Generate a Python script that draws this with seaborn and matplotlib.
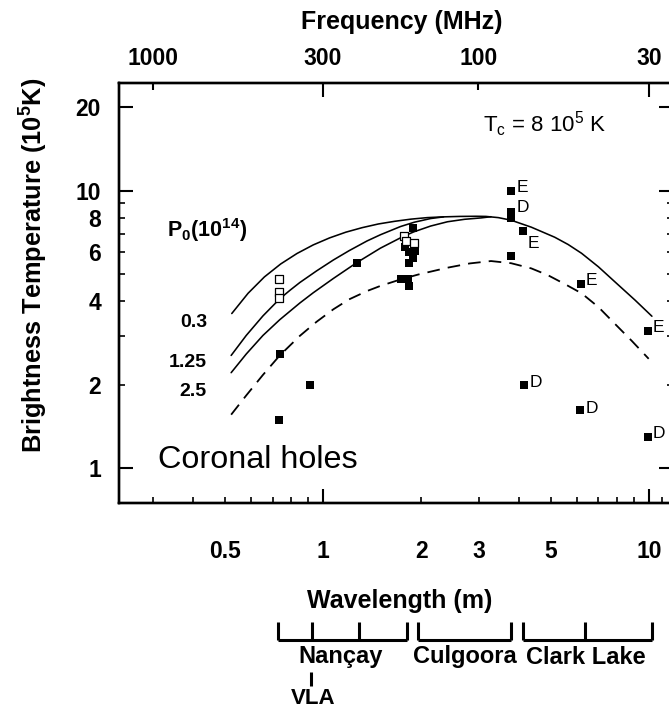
import matplotlib
matplotlib.use("Agg")
import matplotlib.pyplot as plt
import matplotlib.transforms as mtransforms
from matplotlib.ticker import FixedLocator, FuncFormatter
import seaborn as sns

# ---------------- data ----------------
# model curves: wavelength (m) vs brightness temperature (1e5 K)
curve_p03_wl = [0.5248, 0.5888, 0.6607, 0.7413, 0.8318, 0.9333, 1.047, 1.175, 1.318, 1.479,
                1.66, 1.862, 2.089, 2.344, 2.63, 2.951, 3.16, 3.45, 3.777, 4.355,
                5.137, 5.65, 6.212, 6.996, 7.87, 9.073, 10.21]
curve_p03_t = [3.61, 4.27, 4.89, 5.445, 5.94, 6.38, 6.76, 7.09, 7.36, 7.59,
               7.76, 7.90, 8.00, 8.05, 8.08, 8.09, 8.08, 8.00, 7.83, 7.39,
               6.80, 6.40, 5.95, 5.32, 4.69, 4.03, 3.53]
curve_p125_wl = [0.5225, 0.5813, 0.6541, 0.7366, 0.794, 0.849, 0.955, 1.076, 1.202, 1.364,
                 1.500, 1.729, 1.905, 2.139, 2.344]
curve_p125_t = [2.55, 3.01, 3.54, 4.08, 4.39, 4.67, 5.14, 5.63, 6.08, 6.59,
                6.94, 7.43, 7.70, 7.94, 8.05]
curve_p25_wl = [0.5225, 0.5813, 0.6541, 0.7366, 0.849, 0.9334, 1.076, 1.270, 1.500, 1.769,
                1.900, 2.139, 2.409, 2.72, 3.052, 3.276]
curve_p25_t = [2.21, 2.58, 3.01, 3.43, 3.94, 4.29, 4.83, 5.51, 6.21, 6.86,
               7.11, 7.46, 7.73, 7.89, 7.98, 8.06]
curve_hole_wl = [0.5225, 0.5813, 0.6541, 0.7366, 0.849, 0.955, 1.076, 1.202, 1.364, 1.500,
                 1.729, 1.960, 2.409, 2.818, 3.276, 3.777, 4.355, 4.900, 5.500, 6.212,
                 6.996, 7.850, 8.850, 9.980]
curve_hole_t = [1.56, 1.83, 2.17, 2.55, 3.00, 3.37, 3.74, 4.06, 4.35, 4.54,
                4.79, 4.99, 5.28, 5.47, 5.58, 5.48, 5.25, 4.96, 4.62, 4.27,
                3.81, 3.32, 2.88, 2.48]
curve_labels = ["0.3", "1.25", "2.5"]

# observations (filled squares)
obs_wl = [0.737, 0.912, 0.732, 1.27, 1.89, 1.79, 1.83, 1.92, 1.89, 1.83, 1.74, 1.82, 1.83,
          3.78, 3.78, 3.78, 4.10, 3.76, 6.17, 9.90, 4.14, 6.14, 9.90]
obs_t = [2.57, 1.99, 1.49, 5.50, 7.37, 6.25, 6.03, 6.07, 5.70, 5.50, 4.79, 4.79, 4.52,
         10.0, 8.35, 7.95, 7.13, 5.80, 4.63, 3.13, 1.99, 1.62, 1.30]
obs_label = ["", "", "", "", "", "", "", "", "", "", "", "", "",
             "E", "D", "", "E", "", "E", "E", "D", "D", "D"]
# open squares
open_wl = [0.733, 0.733, 0.733, 1.77, 1.80, 1.90]
open_t = [4.80, 4.33, 4.09, 6.88, 6.59, 6.46]

# top axis frequencies (MHz)
freq_major = [300, 30]
freq_minor = [1000, 100]
C_LIGHT = 299.792458

# instrument coverage brackets (wavelength of bracket ticks, m)
instruments = ["Nançay", "Culgoora", "Clark Lake"]
instrument_wl = [[0.725, 0.923, 1.29, 1.81], [1.95, 3.76], [4.10, 6.35, 10.2]]
vla_wl = 0.92

# ---------------- style ----------------
sns.set_theme(style="white")
plt.rcParams["font.family"] = ["Liberation Sans", "DejaVu Sans"]
plt.rcParams["font.weight"] = "bold"
plt.rcParams["mathtext.default"] = "regular"
for k in ["text.color", "axes.labelcolor", "xtick.color", "ytick.color", "axes.edgecolor"]:
    plt.rcParams[k] = "black"

W, H = 669, 708
fig = plt.figure(figsize=(W / 100, H / 100), dpi=100)
L, R, T, B = 119, 673, 82.7, 502.7
ax = fig.add_axes([L / W, 1 - B / H, (R - L) / W, (B - T) / H])


def fx(px):
    return px / W


def fy(py):
    return 1 - py / H


# curves
lw = 1.15
for wl, t in [(curve_p03_wl, curve_p03_t), (curve_p125_wl, curve_p125_t), (curve_p25_wl, curve_p25_t)]:
    sns.lineplot(x=wl, y=t, ax=ax, color="black", lw=lw, sort=False, estimator=None)
sns.lineplot(x=curve_hole_wl, y=curve_hole_t, ax=ax, color="black", lw=1.3, sort=False,
             estimator=None, linestyle=(0, (7, 4.5)))

sns.scatterplot(x=obs_wl, y=obs_t, ax=ax, marker="s", s=26, color="black",
                edgecolor="black", linewidth=0, zorder=5)
sns.scatterplot(x=open_wl, y=open_t, ax=ax, marker="s", s=30, facecolor="white",
                edgecolor="black", linewidth=0.9, zorder=6)

label_dy = [0, 0, 0, 0, 0, 0, 0, 0, 0, 0, 0, 0, 0,
            2, 3.5, 0, -9, 0, 2, 2, 2, 1.5, 2]
for wl, t, lab, dy in zip(obs_wl, obs_t, obs_label, label_dy):
    if lab:
        ax.annotate(lab, (wl, t), xytext=(3.8, dy), textcoords="offset points",
                    ha="left", va="center", fontsize=12.5, fontweight="normal",
                    color="black")

ax.set_xscale("log")
ax.set_yscale("log")
ax.set_xlim(0.2366, 11.85)
ax.set_ylim(0.7516, 24.5)
ax.set_xlabel("")
ax.set_ylabel("")

# x ticks (wavelength)
ax.xaxis.set_major_locator(FixedLocator([1, 10]))
ax.xaxis.set_minor_locator(FixedLocator([0.3, 0.4, 0.5, 0.6, 0.7, 0.8, 0.9,
                                         2, 3, 4, 5, 6, 7, 8, 9, 11]))
ax.xaxis.set_major_formatter(FuncFormatter(lambda v, p: f"{v:g}"))
ax.xaxis.set_minor_formatter(FuncFormatter(lambda v, p: f"{v:g}" if v in (0.5, 2, 3, 5) else ""))
# y ticks
ax.yaxis.set_major_locator(FixedLocator([1, 10, 20]))
ax.yaxis.set_minor_locator(FixedLocator([2, 3, 4, 5, 6, 7, 8, 9]))
ax.yaxis.set_major_formatter(FuncFormatter(lambda v, p: f"{v:g}"))
ax.yaxis.set_minor_formatter(FuncFormatter(lambda v, p: f"{v:g}" if v in (2, 4, 6, 8) else ""))

ax.tick_params(axis="both", which="both", direction="in", colors="black",
               labelcolor="black", labelsize=16.5)
ax.tick_params(axis="y", which="both", right=True, left=True, pad=13)
ax.tick_params(axis="x", which="both", top=False, bottom=True, pad=27)
ax.tick_params(which="major", length=10, width=1.5)
ax.tick_params(which="minor", length=4.5, width=1.2)
for s in ax.spines.values():
    s.set_linewidth(1.7)
    s.set_color("black")

# top axis: frequency
ax2 = ax.twiny()
ax2.set_xscale("log")
ax2.set_xlim(ax.get_xlim())
ax2.xaxis.set_major_locator(FixedLocator([C_LIGHT / f for f in freq_major]))
ax2.xaxis.set_minor_locator(FixedLocator([C_LIGHT / f for f in freq_minor]))
ax2.xaxis.set_major_formatter(FuncFormatter(lambda v, p: f"{C_LIGHT / v:.0f}"))
ax2.xaxis.set_minor_formatter(FuncFormatter(lambda v, p: f"{C_LIGHT / v:.0f}"))
ax2.tick_params(axis="x", which="both", direction="in", labelsize=16.5, pad=9,
                colors="black", labelcolor="black")
ax2.tick_params(which="major", length=10, width=1.5)
ax2.tick_params(which="minor", length=5, width=1.5)
ax2.grid(False)
for s in ax2.spines.values():
    s.set_linewidth(1.7)
    s.set_color("black")

# axis titles
fig.text(fx(402), fy(22), "Frequency (MHz)", ha="center", va="center", fontsize=18)
fig.text(fx(400), fy(601), "Wavelength (m)", ha="center", va="center", fontsize=18)
fig.text(fx(34), fy(265), "Brightness Temperature (10$^5$K)", ha="center", va="center",
         rotation=90, fontsize=18.3)

# in-plot texts
fig.text(fx(158), fy(468), "Coronal holes", ha="left", va="baseline", fontsize=23.3,
         fontweight="normal")
fig.text(fx(483), fy(132), "T$_c$ = 8 10$^5$ K", ha="left", va="baseline", fontsize=16,
         fontweight="normal")
fig.text(fx(167), fy(237), "P$_0$(10$^{14}$)", ha="left", va="baseline", fontsize=15.5)
for lab, yb in zip(curve_labels, [327, 367, 396]):
    fig.text(fx(207), fy(yb), lab, ha="right", va="baseline", fontsize=14)

# instrument brackets below the axis
trans = mtransforms.blended_transform_factory(ax.transData, fig.transFigure)
y_base, y_top = fy(640), fy(622)
for wls in instrument_wl:
    ax.plot([wls[0], wls[-1]], [y_base, y_base], transform=trans, color="black",
            lw=2.2, clip_on=False, solid_capstyle="butt")
    for w in wls:
        ax.plot([w, w], [y_base, y_top], transform=trans, color="black", lw=2.2,
                clip_on=False, solid_capstyle="butt")
for name, xc in zip(instruments, [341, 465, 586]):
    fig.text(fx(xc), fy(657), name, ha="center", va="center", fontsize=17)
ax.plot([vla_wl, vla_wl], [fy(672), fy(686)], transform=trans, color="black", lw=2.2,
        clip_on=False, solid_capstyle="butt")
fig.text(fx(313), fy(698), "VLA", ha="center", va="center", fontsize=16)

fig.savefig("out.png", dpi=100)
